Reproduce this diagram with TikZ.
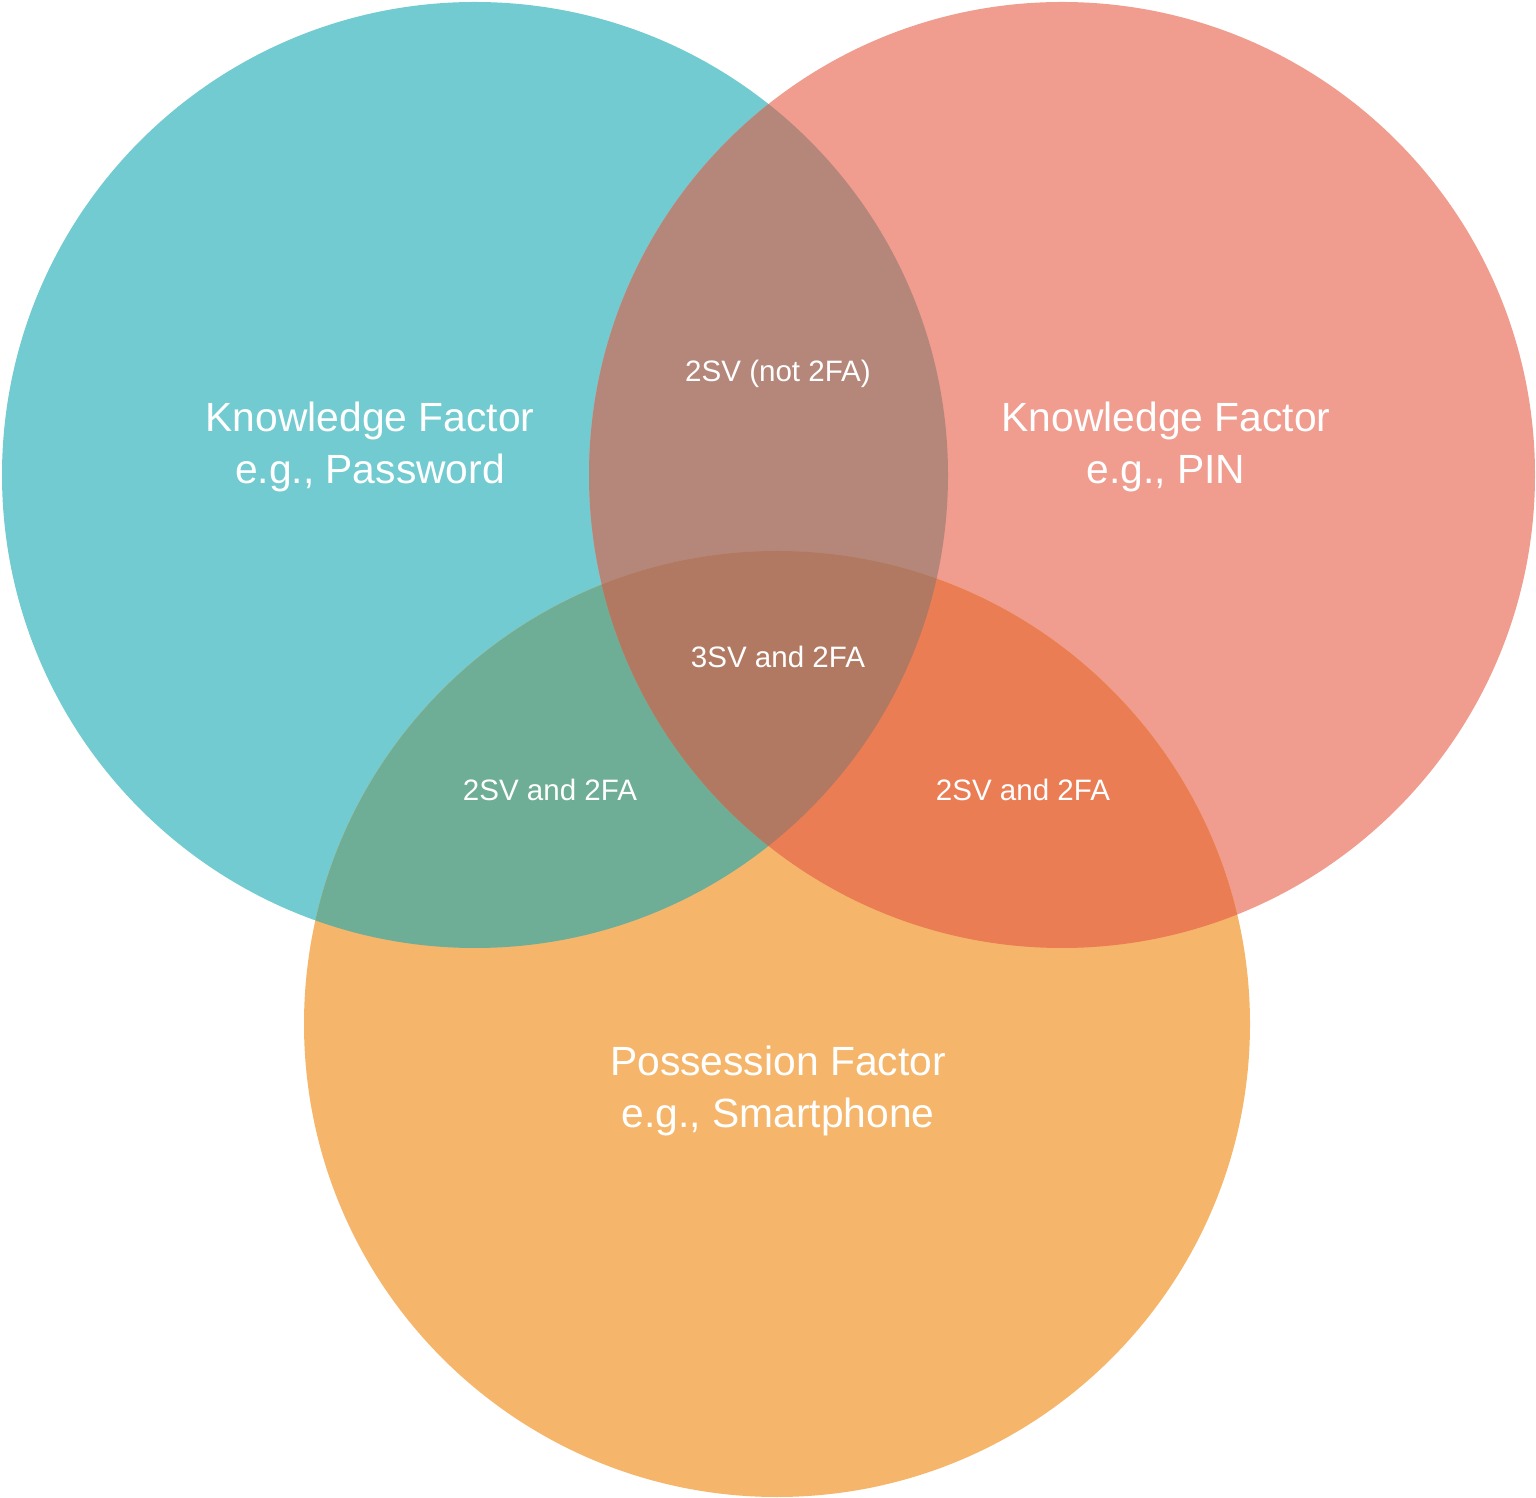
\documentclass[tikz,border=0pt]{standalone}
\usepackage{fontspec}
\setmainfont{Liberation Sans}
\definecolor{teal1}{HTML}{72CBD0}
\definecolor{salmon1}{HTML}{F09C8E}
\definecolor{orange1}{HTML}{F5B66B}
\definecolor{topmix}{HTML}{B5877B}
\definecolor{leftmix}{HTML}{6EAD96}
\definecolor{rightmix}{HTML}{EB7D55}
\definecolor{midmix}{HTML}{B17962}
\tikzset{
  bigtext/.style={text=white,align=center,font=\fontsize{11.6}{15}\selectfont},
  smalltext/.style={text=white,font=\fontsize{8.4}{10}\selectfont}
}
\begin{document}
\begin{tikzpicture}
[x=0.01cm,y=-0.01cm]
\useasboundingbox (0,0) rectangle (1536,1498);
\def\rad{473}
\fill[teal1] (475,475) circle (\rad);
\fill[salmon1] (1062,475) circle (\rad);
\fill[orange1] (777,1024) circle (\rad);

% overlaps
\begin{scope}
  \clip (475,475) circle (\rad);
  \fill[topmix] (1062,475) circle (\rad);
  \fill[leftmix] (777,1024) circle (\rad);
\end{scope}
\begin{scope}
  \clip (1062,475) circle (\rad);
  \fill[rightmix] (777,1024) circle (\rad);
\end{scope}
\begin{scope}
  \clip (475,475) circle (\rad);
  \clip (1062,475) circle (\rad);
  \fill[midmix] (777,1024) circle (\rad);
\end{scope}

\node[bigtext] (know1) at (370,447) {Knowledge Factor\\e.g., Password};
\node[bigtext] (know2) at (1166,447) {Knowledge Factor\\e.g., PIN};
\node[bigtext] (poss) at (778,1091) {Possession Factor\\e.g., Smartphone};
\node[smalltext] (top) at (778,374) {2SV (not 2FA)};
\node[smalltext] (mid) at (778,657) {3SV and 2FA};
\node[smalltext] (left) at (550,790) {2SV and 2FA};
\node[smalltext] (right) at (1023,790) {2SV and 2FA};
\end{tikzpicture}
\end{document}
